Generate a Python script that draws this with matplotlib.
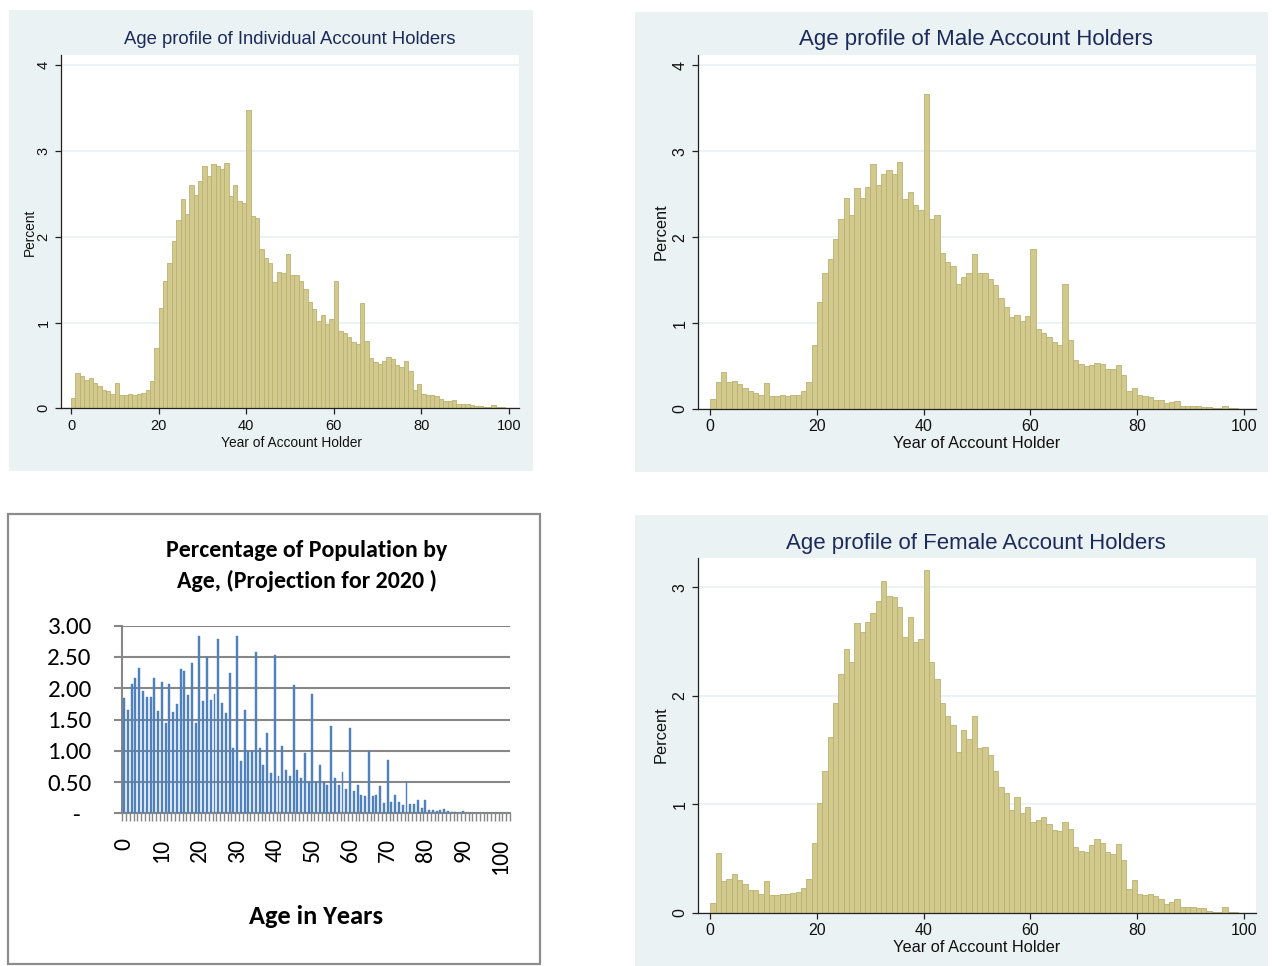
import numpy as np
import matplotlib.pyplot as plt
from matplotlib.patches import Rectangle
from matplotlib import font_manager

# percent of account holders by age (Stata histograms, one bar per year of age)
all_pct = [0.12, 0.415, 0.38, 0.33, 0.35, 0.30, 0.26, 0.21, 0.20, 0.17,
           0.30, 0.15, 0.15, 0.17, 0.16, 0.17, 0.18, 0.21, 0.32, 0.70,
           1.17, 1.48, 1.69, 1.95, 2.20, 2.44, 2.27, 2.60, 2.49, 2.65,
           2.82, 2.71, 2.85, 2.82, 2.79, 2.86, 2.47, 2.60, 2.42, 2.39,
           3.48, 2.24, 2.22, 1.86, 1.75, 1.69, 1.47, 1.59, 1.58, 1.80,
           1.55, 1.55, 1.48, 1.39, 1.24, 1.16, 1.02, 1.09, 0.98, 1.04,
           1.48, 0.90, 0.88, 0.83, 0.77, 0.75, 1.23, 0.78, 0.59, 0.54,
           0.52, 0.55, 0.60, 0.57, 0.50, 0.48, 0.55, 0.43, 0.21, 0.28,
           0.17, 0.155, 0.155, 0.14, 0.11, 0.08, 0.09, 0.10, 0.05, 0.05,
           0.05, 0.04, 0.03, 0.03, 0.02, 0.02, 0.035, 0.015, 0.01]

male_pct = [0.12, 0.32, 0.43, 0.32, 0.33, 0.29, 0.25, 0.21, 0.19, 0.16,
            0.30, 0.15, 0.15, 0.16, 0.15, 0.16, 0.16, 0.21, 0.32, 0.74,
            1.25, 1.58, 1.74, 1.98, 2.21, 2.45, 2.26, 2.57, 2.45, 2.58,
            2.85, 2.61, 2.74, 2.78, 2.73, 2.88, 2.44, 2.53, 2.37, 2.32,
            3.67, 2.21, 2.26, 1.82, 1.71, 1.67, 1.46, 1.54, 1.58, 1.80,
            1.58, 1.58, 1.51, 1.44, 1.29, 1.19, 1.07, 1.09, 1.02, 1.08,
            1.86, 0.93, 0.88, 0.84, 0.78, 0.74, 1.46, 0.80, 0.57, 0.52,
            0.50, 0.51, 0.54, 0.52, 0.47, 0.46, 0.51, 0.40, 0.21, 0.25,
            0.16, 0.15, 0.14, 0.11, 0.10, 0.07, 0.08, 0.09, 0.04, 0.04,
            0.03, 0.04, 0.02, 0.02, 0.01, 0.01, 0.03, 0.01, 0.01]

female_pct = [0.09, 0.55, 0.29, 0.31, 0.36, 0.30, 0.26, 0.21, 0.21, 0.17,
              0.29, 0.16, 0.16, 0.175, 0.175, 0.18, 0.19, 0.23, 0.31, 0.64,
              1.01, 1.31, 1.62, 1.93, 2.20, 2.43, 2.31, 2.67, 2.59, 2.68,
              2.76, 2.87, 3.06, 2.92, 2.91, 2.82, 2.54, 2.73, 2.50, 2.52,
              3.16, 2.31, 2.15, 1.93, 1.81, 1.73, 1.48, 1.68, 1.60, 1.81,
              1.52, 1.53, 1.45, 1.31, 1.16, 1.10, 0.95, 1.07, 0.92, 0.97,
              0.84, 0.85, 0.88, 0.82, 0.76, 0.755, 0.84, 0.77, 0.61, 0.57,
              0.56, 0.62, 0.68, 0.645, 0.56, 0.54, 0.63, 0.49, 0.22, 0.30,
              0.175, 0.165, 0.175, 0.15, 0.13, 0.08, 0.10, 0.13, 0.05, 0.055,
              0.05, 0.04, 0.04, 0.02, 0.01, 0.01, 0.05, 0.01, 0.01]

# population projection 2020, percent by single year of age (Excel chart)
pop_pct = [1.84, 1.65, 2.06, 2.17, 2.32, 1.96, 1.86, 1.86, 2.17, 1.64,
           2.10, 1.45, 2.06, 1.62, 1.75, 2.30, 2.28, 1.89, 2.41, 1.45,
           2.83, 1.80, 2.50, 1.81, 1.91, 2.79, 1.76, 1.61, 2.24, 1.05,
           2.84, 0.83, 1.65, 0.99, 0.99, 2.58, 1.05, 0.77, 1.29, 0.64,
           2.53, 0.60, 1.08, 0.69, 0.60, 2.05, 0.69, 0.57, 0.97, 0.50,
           1.91, 0.50, 0.77, 0.50, 0.45, 1.39, 0.56, 0.45, 0.66, 0.39,
           1.36, 0.35, 0.45, 0.30, 0.27, 0.99, 0.27, 0.29, 0.43, 0.17,
           0.85, 0.18, 0.29, 0.18, 0.13, 0.50, 0.15, 0.15, 0.21, 0.08,
           0.21, 0.05, 0.06, 0.04, 0.05, 0.07, 0.03, 0.02, 0.02, 0.005,
           0.03, 0.005, 0.004, 0.003, 0.003, 0.002, 0.002, 0.002, 0.001, 0.001,
           0.001, 0.001, 0.001]

stata_titles = ['Age profile of Individual Account Holders',
                'Age profile of Male Account Holders',
                'Age profile of Female Account Holders']
pop_title = 'Percentage of Population by\nAge, (Projection for 2020 )'
pop_yticks = [0, 0.5, 1.0, 1.5, 2.0, 2.5, 3.0]
pop_xticks = list(range(0, 101, 10))

W, H = 1272, 966
STATA_BG = '#EAF2F3'
BAR_FILL = '#D1C98D'
BAR_EDGE = '#BBB170'
NAVY = '#1C2A5A'
XL_GRAY = '#878787'


def pick_font(*names):
    for n in names:
        try:
            font_manager.findfont(n, fallback_to_default=False)
            return n
        except ValueError:
            pass
    return 'DejaVu Sans'


ARIAL = pick_font('Liberation Sans', 'Arial')
NARROW = pick_font('Liberation Sans Narrow', 'Liberation Sans')
CALIBRI = pick_font('Carlito', 'Lato', 'Open Sans')


def rect(l, t, r, b):
    # pixel box -> figure fraction
    return [l / W, 1 - b / H, (r - l) / W, (b - t) / H]


def fpos(x, y):
    return x / W, 1 - y / H


def bg(fig, l, t, r, b, **kw):
    fig.patches.append(Rectangle((l / W, 1 - b / H), (r - l) / W, (b - t) / H,
                                 transform=fig.transFigure, zorder=-5, **kw))


def stata_hist(fig, box, values, ymax, yticks, title, tpos, ylpos, xlpos,
               font, fs, tfs, lfs):
    ax = fig.add_axes(rect(*box))
    ages = np.arange(len(values))
    ax.bar(ages, values, width=1.0, align='edge', color=BAR_FILL,
           edgecolor=BAR_EDGE, linewidth=0.6, zorder=2)
    ax.set_xlim(-2.3, 102.3)
    ax.set_ylim(0, ymax)
    ax.set_xticks([0, 20, 40, 60, 80, 100])
    ax.set_yticks(yticks)
    ax.grid(axis='y', color=STATA_BG, linewidth=1.3, zorder=1)
    ax.set_axisbelow(True)
    for s in ['top', 'right']:
        ax.spines[s].set_visible(False)
    for s in ['left', 'bottom']:
        ax.spines[s].set_color('#222222')
        ax.spines[s].set_linewidth(0.9)
    ax.tick_params(length=4.5, width=0.9, color='#222222', labelsize=fs,
                   labelcolor='#111111', pad=3)
    for lab in ax.get_xticklabels() + ax.get_yticklabels():
        lab.set_family(font)
    for lab in ax.get_yticklabels():
        lab.set_rotation(90)
        lab.set_va('center')
    fig.text(*fpos(*tpos), title, ha='center', va='center', color=NAVY,
             fontsize=tfs, family=font)
    fig.text(*fpos(*ylpos), 'Percent', ha='center', va='center', rotation=90,
             fontsize=lfs, family=font, color='#111111')
    fig.text(*fpos(*xlpos), 'Year of Account Holder', ha='center', va='center',
             fontsize=lfs, family=font, color='#111111')
    return ax


fig = plt.figure(figsize=(W / 100, H / 100), dpi=100)
fig.patch.set_facecolor('white')

# Stata panels
bg(fig, 9, 10, 533, 471, facecolor=STATA_BG, edgecolor='none')
bg(fig, 635, 12, 1268, 472, facecolor=STATA_BG, edgecolor='none')
bg(fig, 635, 515, 1268, 966, facecolor=STATA_BG, edgecolor='none')

stata_hist(fig, (61, 55, 519, 408.3), all_pct, 4.12, [0, 1, 2, 3, 4],
           stata_titles[0], (290, 40), (30, 232), (291, 443), NARROW,
           10.5, 13.3, 9.9)
stata_hist(fig, (698, 55, 1256, 409), male_pct, 4.12, [0, 1, 2, 3, 4],
           stata_titles[1], (976, 40), (661, 232), (977, 443), ARIAL,
           11.5, 16, 11.8)
stata_hist(fig, (698, 558, 1256, 912.7), female_pct, 3.27, [0, 1, 2, 3],
           stata_titles[2], (976, 543), (661, 735), (977, 947), ARIAL,
           11.5, 16, 11.8)

# Excel panel
bg(fig, 8, 514, 540, 964, facecolor='white', edgecolor='#8C8C8C', linewidth=1.6)
ax3 = fig.add_axes(rect(122.3, 625.7, 510, 813.3))
cats = np.arange(len(pop_pct))
ax3.bar(cats, pop_pct, width=0.52, color='#4F81BD', edgecolor='#4F81BD',
        linewidth=0.3, zorder=3)
ax3.set_xlim(-0.5, len(pop_pct) - 0.5)
ax3.set_ylim(0, 3.0)
ax3.set_yticks(pop_yticks)
ax3.set_yticklabels(['-  '] + ['%.2f' % v for v in pop_yticks[1:]])
ax3.set_xticks(pop_xticks)
ax3.set_xticklabels([str(v) for v in pop_xticks], rotation=90)
ax3.set_xticks(np.arange(-0.5, len(pop_pct), 1.0), minor=True)
ax3.grid(axis='y', color=XL_GRAY, linewidth=1.5, zorder=1)
ax3.set_axisbelow(True)
for s in ['top', 'right']:
    ax3.spines[s].set_visible(False)
for s in ['left', 'bottom']:
    ax3.spines[s].set_color(XL_GRAY)
    ax3.spines[s].set_linewidth(1.5)
ax3.tick_params(axis='y', length=6, width=1.5, color=XL_GRAY, pad=16,
                labelsize=18)
ax3.tick_params(axis='x', which='major', length=0, pad=18, labelsize=17)
ax3.tick_params(axis='x', which='minor', length=6, width=1.0, color=XL_GRAY)
for lab in ax3.get_xticklabels() + ax3.get_yticklabels():
    lab.set_family(CALIBRI)
fig.text(*fpos(307, 566), pop_title, ha='center', va='center', fontsize=17.2,
         fontweight='bold', family=CALIBRI, linespacing=1.45)
fig.text(*fpos(316, 917), 'Age in Years', ha='center', va='center', fontsize=19,
         fontweight='bold', family=CALIBRI)

fig.savefig('out.png', dpi=100)
